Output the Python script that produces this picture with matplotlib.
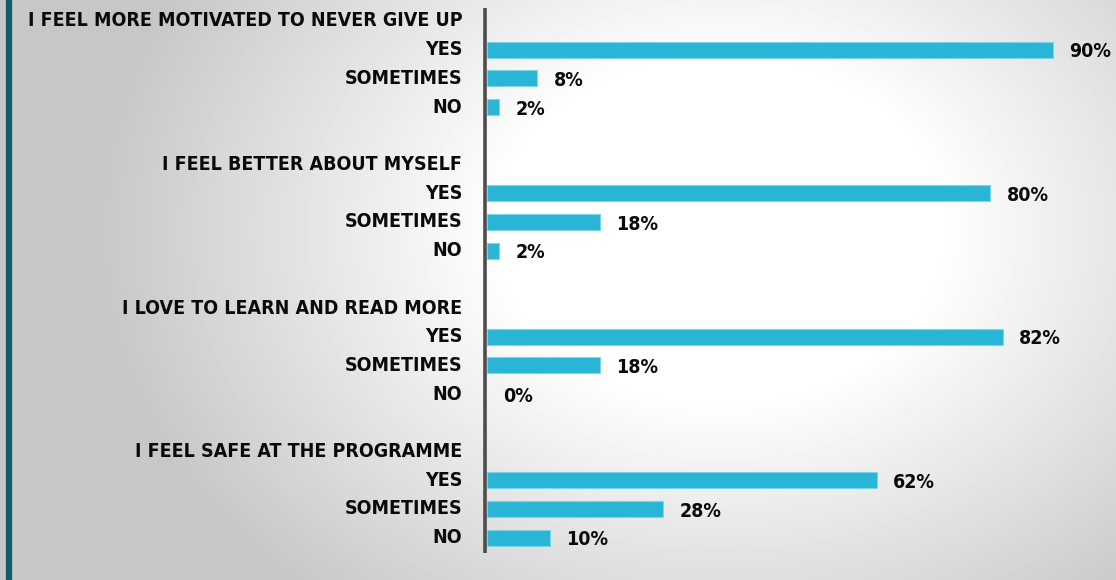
import numpy as np
import matplotlib.pyplot as plt

# Survey responses, percentage per answer
questions = [
    "I FEEL MORE MOTIVATED TO NEVER GIVE UP",
    "I FEEL BETTER ABOUT MYSELF",
    "I LOVE TO LEARN AND READ MORE",
    "I FEEL SAFE AT THE PROGRAMME",
]
answers = ["YES", "SOMETIMES", "NO"]
yes_pct = [90, 80, 82, 62]
sometimes_pct = [8, 18, 18, 28]
no_pct = [2, 2, 0, 10]

BAR_COLOR = "#29b5d5"
TEXT_COLOR = "#0a0a0a"
FONT = dict(family="DejaVu Sans", fontstretch="condensed", fontweight="bold",
            fontsize=14, color=TEXT_COLOR)

W, H = 1116, 580
fig = plt.figure(figsize=(W / 100, H / 100), dpi=100)

# radial grey-to-white backdrop
bg = fig.add_axes([0, 0, 1, 1])
yy, xx = np.mgrid[0:H, 0:W]
r = np.sqrt(((xx - 720) / 620.0) ** 2 + ((yy - 230) / 480.0) ** 2)
shade = np.clip(1.0 - 0.25 * np.clip(r - 0.35, 0, None) / 0.75, 0.78, 1.0)
bg.imshow(shade, cmap="gray", vmin=0, vmax=1, extent=[0, W, H, 0], aspect="auto")
bg.axvline(8.5, color="#0f5c6c", lw=4.5)
bg.set_xlim(0, W)
bg.set_ylim(H, 0)
bg.axis("off")

# main bar axes, in pixel-aligned coordinates
ax = fig.add_axes([0.4345, 0.0, 0.5655, 1.0])
ax.patch.set_alpha(0)
px_per_pct = 6.3
ax.set_xlim(-2 / px_per_pct, (W - 486) / px_per_pct)
row_h = 28.7
top = 21
ax.set_ylim((H - top) / row_h, -top / row_h)

values = [yes_pct, sometimes_pct, no_pct]
for q, question in enumerate(questions):
    base = q * 5
    ax.text(-3.9, base, question, ha="right", va="center", clip_on=False, **FONT)
    for a, answer in enumerate(answers):
        y = base + 1 + a
        v = values[a][q]
        if v > 0:
            ax.barh(y, v, height=0.56, color=BAR_COLOR, edgecolor="#7fd3e6", lw=0.8)
        ax.text(-3.9, y, answer, ha="right", va="center", clip_on=False, **FONT)
        ax.text(v + 2.6, y + 0.08, f"{v}%", ha="left", va="center", **FONT)

ax.plot([-0.3, -0.3], [(8 - top) / row_h, (553 - top) / row_h], color="#4d4d4d",
        lw=2.6, solid_capstyle="butt", clip_on=False)
ax.axis("off")

fig.savefig("out.png", dpi=100)
